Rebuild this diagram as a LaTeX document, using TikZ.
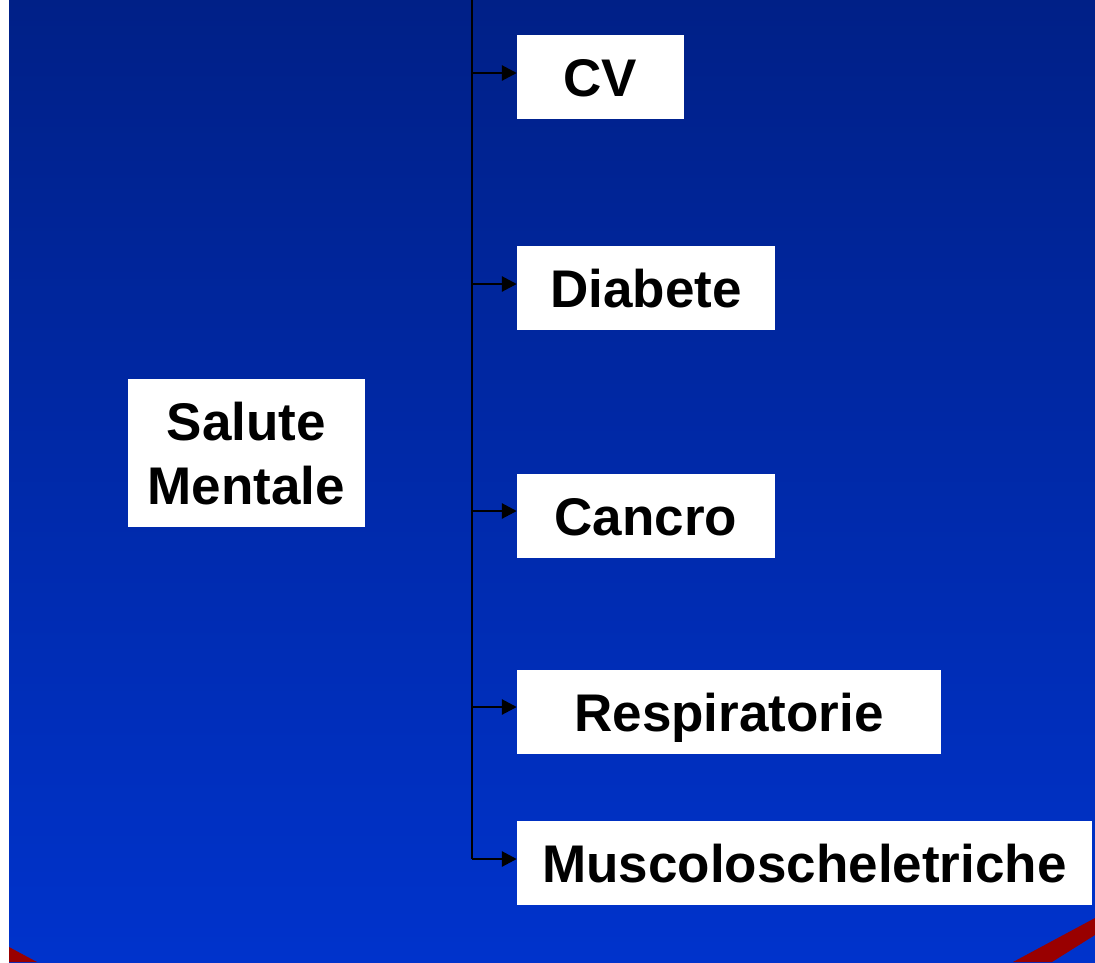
\documentclass[tikz,border=0pt]{standalone}
\usepackage{fontspec}
\setmainfont{Liberation Sans}
\usetikzlibrary{arrows.meta,calc}
\definecolor{bgtop}{RGB}{0,32,135}
\definecolor{bgbot}{RGB}{0,51,204}
\definecolor{stripe}{RGB}{153,0,0}

\begin{document}
\begin{tikzpicture}[x=1pt,y=-1pt,
    box/.style={fill=white,inner sep=0pt,font=\fontsize{53}{64}\selectfont\bfseries,
      text height=39pt,text depth=0pt,minimum height=84pt},
    branch/.style={line width=2.8pt,-{Triangle[length=15pt,width=15pt]}}]
    \useasboundingbox (0,0) rectangle (1095,962);
    % background
    \fill[white] (0,0) rectangle (1095,962);
    \shade[top color=bgtop,bottom color=bgbot] (9,0) rectangle (1095,962);
    \fill[stripe] (9,947) -- (37,962) -- (9,962) -- cycle;
    \fill[stripe] (1095,918) -- (1013,962) -- (1052,962) -- (1095,935) -- cycle;
    % boxes
    \node[box,minimum width=237pt,minimum height=148pt,text height=103pt,align=center]
      (mental) at (246.5,453) {Salute\\Mentale};
    \node[box,minimum width=167pt] (cv) at (600.5,77) {CV};
    \node[box,minimum width=258pt] (diab) at (646,288) {Diabete};
    \node[box,minimum width=258pt] (canc) at (646,516) {Cancro};
    \node[box,minimum width=424pt] (resp) at (729,712) {Respiratorie};
    \node[box,minimum width=575pt] (musc) at (804.5,863) {Muscoloscheletriche};
    % trunk
    \coordinate (top) at (472,0);
    \coordinate (b1) at (472,73);
    \coordinate (b2) at (472,284);
    \coordinate (b3) at (472,511);
    \coordinate (b4) at (472,707);
    \coordinate (b5) at (472,859);
    \draw[line width=2.8pt] (top) -- (b5);
    \draw[branch] (b1) -- (b1 -| cv.west);
    \draw[branch] (b2) -- (b2 -| diab.west);
    \draw[branch] (b3) -- (b3 -| canc.west);
    \draw[branch] (b4) -- (b4 -| resp.west);
    \draw[branch] (b5) -- (b5 -| musc.west);
\end{tikzpicture}
\end{document}
